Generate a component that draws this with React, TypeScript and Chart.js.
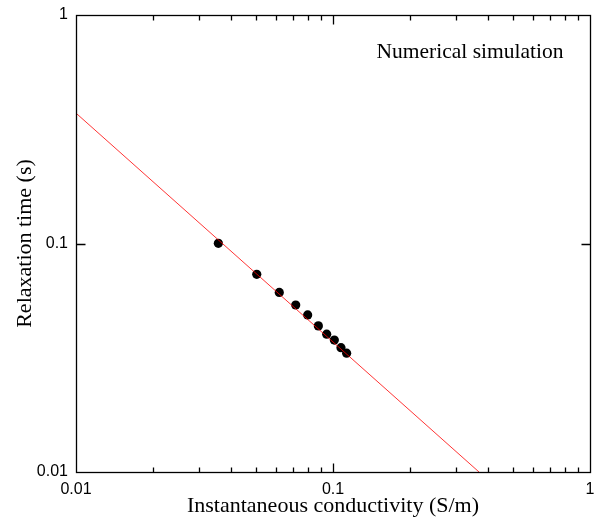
import React, { useEffect, useRef } from "react";
import { Chart, registerables } from "chart.js";

Chart.register(...registerables);

// Data
const conductivity = [0.0358, 0.0505, 0.0618, 0.0716, 0.0797, 0.0877, 0.0945, 0.1012, 0.1074, 0.113];
const relaxationTime = [0.1002, 0.0733, 0.0611, 0.0538, 0.0487, 0.0436, 0.0401, 0.0378, 0.035, 0.0331];
const fitX = [0.01, 0.37];
const fitY = [0.372, 0.01];

const majorTicks = [0.01, 0.1, 1];
const minorMultipliers = [2, 3, 4, 5, 6, 7, 8, 9];
const xTitle = "Instantaneous conductivity (S/m)";
const yTitle = "Relaxation time (s)";
const annotation = "Numerical simulation";

const SERIF = "'Liberation Serif', 'Times New Roman', serif";
const SANS = "'Liberation Sans', Arial, Helvetica, sans-serif";

const xTickValues: number[] = [];
majorTicks.forEach((m, i) => {
  xTickValues.push(m);
  if (i < majorTicks.length - 1) minorMultipliers.forEach((k) => xTickValues.push(+(m * k).toPrecision(3)));
});

const framePlugin = {
  id: "frame",
  afterDraw(chart: any) {
    const { ctx, chartArea } = chart;
    const { left, right, top, bottom } = chartArea;
    const xs = chart.scales.x;
    const ys = chart.scales.y;
    ctx.save();
    ctx.strokeStyle = "#000";
    ctx.lineWidth = 1.3;
    const L = Math.round(left) + 0.5;
    const R = Math.round(right) + 0.5;
    const T = Math.round(top) + 0.5;
    const B = Math.round(bottom) + 0.5;
    ctx.strokeRect(L, T, R - L, B - T);
    ctx.beginPath();
    xTickValues.forEach((v) => {
      if (v <= 0.01 || v >= 1) return;
      const px = Math.round(xs.getPixelForValue(v)) + 0.5;
      const len = majorTicks.includes(v) ? 9 : 5;
      ctx.moveTo(px, B);
      ctx.lineTo(px, B - len);
      ctx.moveTo(px, T);
      ctx.lineTo(px, T + len);
    });
    majorTicks.forEach((v) => {
      if (v <= 0.01 || v >= 1) return;
      const py = Math.round(ys.getPixelForValue(v)) + 0.5;
      ctx.moveTo(L, py);
      ctx.lineTo(L + 9, py);
      ctx.moveTo(R, py);
      ctx.lineTo(R - 9, py);
    });
    ctx.stroke();
    ctx.fillStyle = "#000";
    ctx.font = `21.5px ${SERIF}`;
    ctx.textAlign = "center";
    ctx.textBaseline = "middle";
    ctx.fillText(annotation, right - 120, top + 37);
    ctx.restore();
  },
};

export default function App() {
  const ref = useRef<HTMLCanvasElement | null>(null);
  useEffect(() => {
    if (!ref.current) return;
    const chart = new Chart(ref.current, {
      type: "scatter",
      data: {
        datasets: [
          {
            data: fitX.map((x, i) => ({ x, y: fitY[i] })),
            showLine: true,
            borderColor: "rgb(255,0,0)",
            borderWidth: 0.8,
            pointRadius: 0,
          },
          {
            data: conductivity.map((x, i) => ({ x, y: relaxationTime[i] })),
            backgroundColor: "#000",
            borderColor: "#000",
            pointRadius: 4.6,
            borderWidth: 0,
          },
        ],
      },
      plugins: [framePlugin],
      options: {
        animation: false,
        responsive: false,
        layout: { padding: { top: 15, right: 9, left: 0, bottom: 0 } },
        plugins: { legend: { display: false }, tooltip: { enabled: false } },
        scales: {
          x: {
            type: "logarithmic",
            min: 0.01,
            max: 1,
            afterBuildTicks: (scale: any) => {
              scale.ticks = xTickValues.map((v) => ({ value: v }));
            },
            afterFit: (scale: any) => {
              scale.height = 47;
              scale.paddingLeft = 0;
              scale.paddingRight = 0;
            },
            grid: { display: false, drawTicks: false },
            border: { display: false },
            ticks: {
              autoSkip: false,
              maxRotation: 0,
              padding: 8,
              color: "#000",
              font: { family: SANS, size: 16 },
              callback: (v: any) => (majorTicks.includes(v) ? String(v) : ""),
            },
            title: {
              display: true,
              text: xTitle,
              color: "#000",
              font: { family: SERIF, size: 22 },
              padding: { top: 0, bottom: 0 },
            },
          },
          y: {
            type: "logarithmic",
            min: 0.01,
            max: 1,
            afterBuildTicks: (scale: any) => {
              scale.ticks = majorTicks.map((v) => ({ value: v }));
            },
            afterFit: (scale: any) => {
              scale.width = 76;
              scale.paddingTop = 0;
              scale.paddingBottom = 0;
            },
            grid: { display: false, drawTicks: false },
            border: { display: false },
            ticks: {
              autoSkip: false,
              padding: 8,
              color: "#000",
              font: { family: SANS, size: 16 },
              callback: (v: any) => (majorTicks.includes(v) ? String(v) : ""),
            },
            title: {
              display: true,
              text: yTitle,
              color: "#000",
              font: { family: SERIF, size: 22 },
              padding: { top: 12, bottom: 0 },
            },
          },
        },
      },
    });
    return () => chart.destroy();
  }, []);
  return (
    <div style={{ position: "fixed", left: 0, top: 0, width: 599, height: 519, background: "#fff" }}>
      <canvas ref={ref} width={599} height={519} style={{ width: 599, height: 519, display: "block" }} />
    </div>
  );
}
